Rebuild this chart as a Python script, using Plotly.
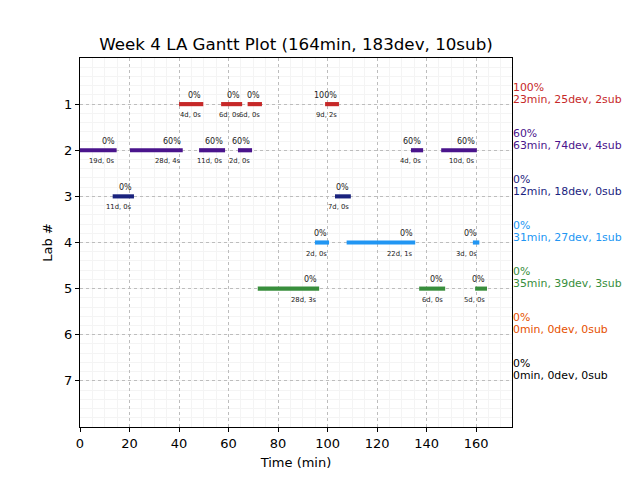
import plotly.graph_objects as go

# ---- data ----
labs = [1, 2, 3, 4, 5, 6, 7]
lab_colors = ["#C62828", "#4A148C", "#1A237E", "#2196F3", "#388E3C", "#E65100", "#000000"]

lab1_start = [40.0, 57.0, 67.7, 99.0]
lab1_end = [49.8, 65.5, 73.5, 104.6]
lab1_pct = ["0%", "0%", "0%", "100%"]
lab1_sub = ["4d, 0s", "6d, 0s", "6d, 0s", "9d, 2s"]

lab2_start = [0.0, 20.2, 48.1, 63.8, 133.7, 145.9]
lab2_end = [14.8, 41.5, 58.6, 69.5, 138.6, 160.3]
lab2_pct = ["0%", "60%", "60%", "60%", "60%", "60%"]
lab2_sub = ["19d, 0s", "28d, 4s", "11d, 0s", "2d, 0s", "4d, 0s", "10d, 0s"]

lab3_start = [13.2, 103.0]
lab3_end = [21.8, 109.4]
lab3_pct = ["0%", "0%"]
lab3_sub = ["11d, 0s", "7d, 0s"]

lab4_start = [94.9, 107.7, 158.7]
lab4_end = [100.6, 135.4, 161.3]
lab4_pct = ["0%", "0%", "0%"]
lab4_sub = ["2d, 0s", "22d, 1s", "3d, 0s"]

lab5_start = [71.8, 137.0, 159.6]
lab5_end = [96.6, 147.5, 164.4]
lab5_pct = ["0%", "0%", "0%"]
lab5_sub = ["28d, 3s", "6d, 0s", "5d, 0s"]

summary_pct = ["100%", "60%", "0%", "0%", "0%", "0%", "0%"]
summary_txt = ["23min, 25dev, 2sub", "63min, 74dev, 4sub", "12min, 18dev, 0sub",
               "31min, 27dev, 1sub", "35min, 39dev, 3sub", "0min, 0dev, 0sub",
               "0min, 0dev, 0sub"]

title = "Week 4 LA Gantt Plot (164min, 183dev, 10sub)"
x_max = 174.5

sessions = [
    (1, lab1_start, lab1_end, lab1_pct, lab1_sub),
    (2, lab2_start, lab2_end, lab2_pct, lab2_sub),
    (3, lab3_start, lab3_end, lab3_pct, lab3_sub),
    (4, lab4_start, lab4_end, lab4_pct, lab4_sub),
    (5, lab5_start, lab5_end, lab5_pct, lab5_sub),
]

FONT = "DejaVu Sans"
W, H = 632, 472  # page body has an 8px margin
fig = go.Figure()
annotations = []

for lab, starts, ends, pcts, subs in sessions:
    color = lab_colors[lab - 1]
    fig.add_trace(go.Bar(
        orientation="h",
        y=[lab] * len(starts),
        x=[e - s for s, e in zip(starts, ends)],
        base=starts,
        width=0.09,
        marker=dict(color=color, line=dict(width=0)),
        showlegend=False,
        hoverinfo="skip",
    ))
    for s, e, p, sb in zip(starts, ends, pcts, subs):
        annotations.append(dict(x=e, y=lab, xref="x", yref="y", text=p, showarrow=False,
                                xanchor="right", yanchor="bottom", yshift=2.5,
                                font=dict(family=FONT, size=8, color="#222222")))
        annotations.append(dict(x=e, y=lab, xref="x", yref="y", text=sb, showarrow=False,
                                xanchor="right", yanchor="top", yshift=-5,
                                font=dict(family=FONT, size=6.8, color="#222222")))

for lab, p, t, c in zip(labs, summary_pct, summary_txt, lab_colors):
    annotations.append(dict(x=1, y=lab, xref="paper", yref="y", text=p, showarrow=False,
                            xanchor="left", yanchor="bottom", xshift=0, yshift=9.5,
                            borderpad=0, font=dict(family=FONT, size=10.9, color=c)))
    annotations.append(dict(x=1, y=lab, xref="paper", yref="y", text=t, showarrow=False,
                            xanchor="left", yanchor="bottom", xshift=0, yshift=-2.5,
                            borderpad=0, font=dict(family=FONT, size=10.9, color=c)))

fig.update_layout(
    width=W, height=H,
    margin=dict(l=72, r=128, t=50, b=53),
    paper_bgcolor="white", plot_bgcolor="white",
    barmode="overlay",
    title=dict(text=title, x=288 / W, xanchor="center", y=1 - 36 / H, yanchor="middle",
               font=dict(family=FONT, size=16.7, color="black")),
    font=dict(family=FONT, color="black"),
    annotations=annotations,
    showlegend=False,
)
fig.update_xaxes(
    range=[0, x_max], tick0=0, dtick=20, showline=True, linecolor="black", linewidth=1,
    mirror=True, ticks="outside", ticklen=4, tickcolor="black",
    tickfont=dict(family=FONT, size=13, color="black"),
    showgrid=True, gridcolor="#bdbdbd", griddash="dot", gridwidth=1, zeroline=False,
    minor=dict(dtick=5, showgrid=True, gridcolor="#f4f4f4", gridwidth=1, griddash="solid"),
    title=dict(text="Time (min)", font=dict(family=FONT, size=13, color="black"), standoff=8),
)
fig.update_yaxes(
    range=[8, 0], tickmode="array", tickvals=labs, ticktext=[str(l) for l in labs],
    showline=True, linecolor="black", linewidth=1, mirror=True,
    ticks="outside", ticklen=4, tickcolor="black",
    tickfont=dict(family=FONT, size=13, color="black"),
    showgrid=True, gridcolor="#bdbdbd", griddash="dot", gridwidth=1, zeroline=False,
    minor=dict(tick0=0, dtick=0.2, showgrid=True, gridcolor="#f4f4f4", gridwidth=1,
               griddash="solid"),
    title=dict(text="Lab #", font=dict(family=FONT, size=13, color="black"), standoff=8),
)

fig.write_html("out.html")
